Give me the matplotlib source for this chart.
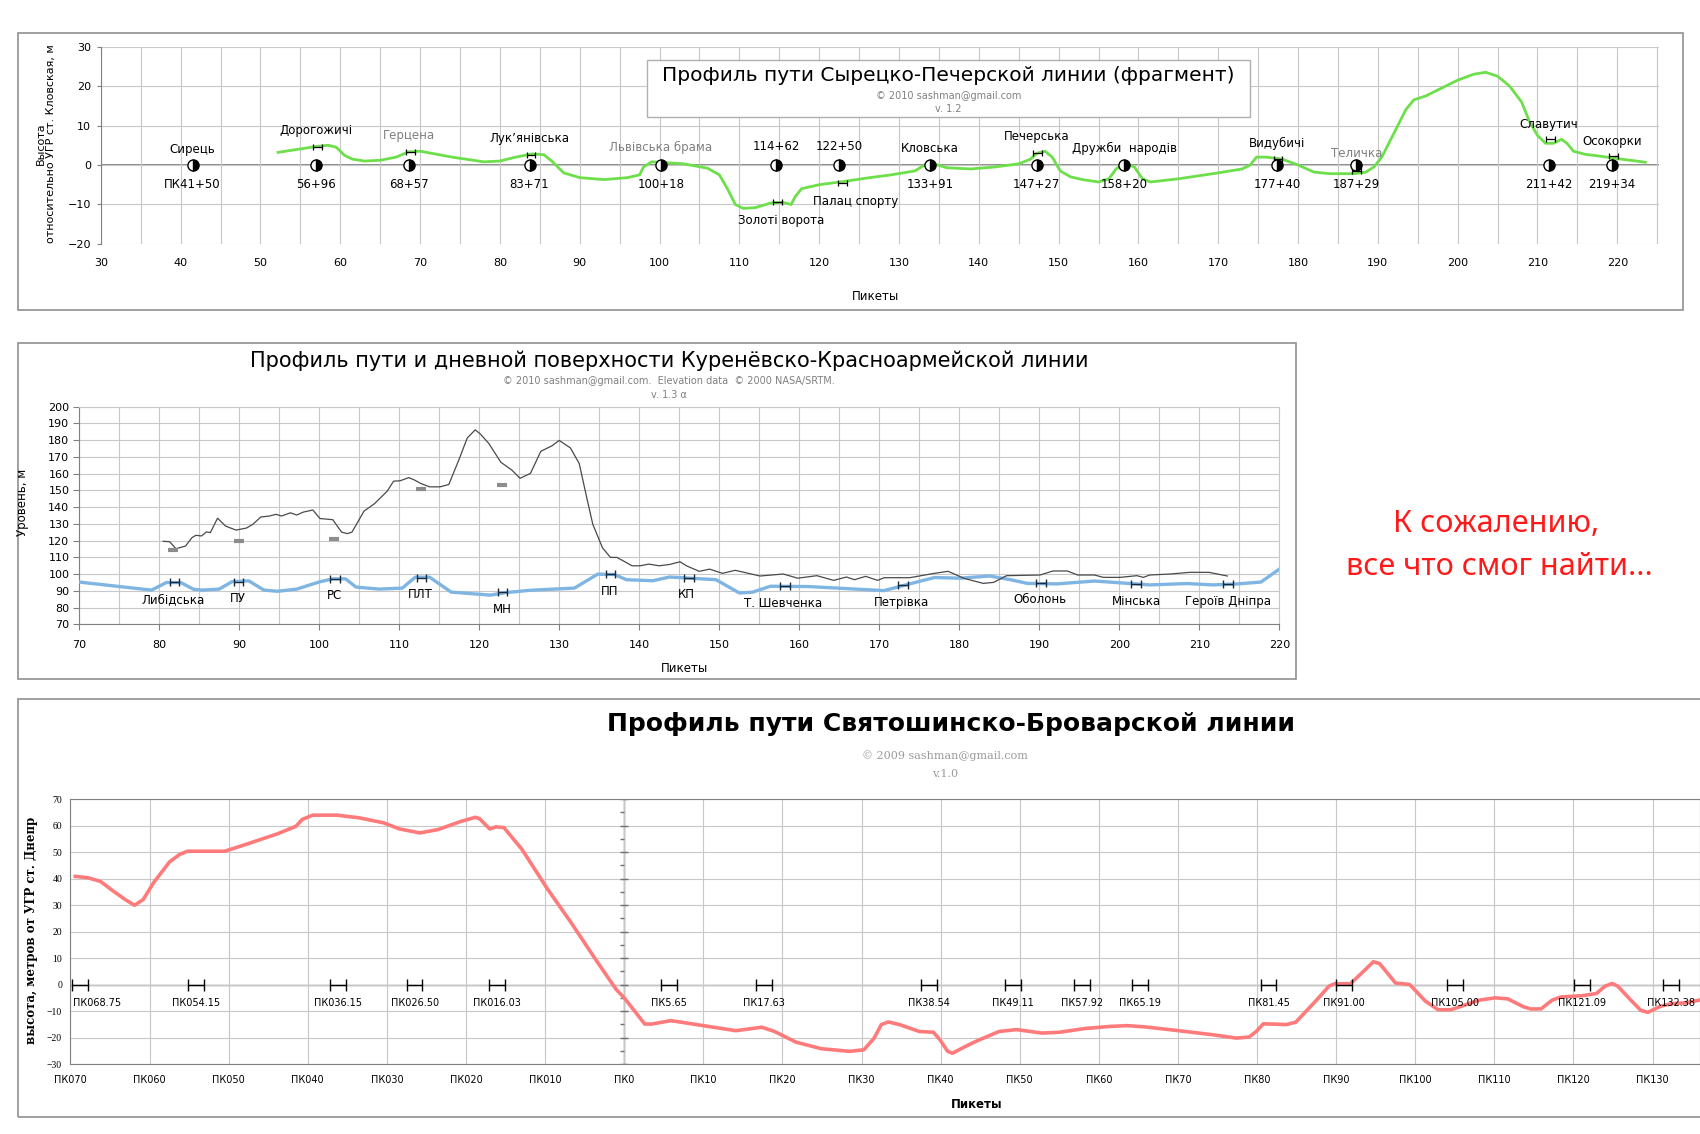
import matplotlib
matplotlib.use('Agg')
import matplotlib.pyplot as plt
from matplotlib.patches import Rectangle

plt.rcParams['font.family'] = ['DejaVu Sans Condensed', 'DejaVu Sans']

# ---------- Сырецко-Печерская линия (верхний график) ----------
sp_x = [52.2, 57, 58.5, 59.5, 60.5, 61.5, 63, 65, 67, 68.5, 70, 74, 78, 80, 82, 84, 85.5,
        86.5, 88, 90, 93, 96, 97.5, 98, 99, 100, 103, 106, 107.5, 108.5, 109.5, 110.5,
        112, 114, 115.5, 116.5, 117, 117.8, 120, 123, 126, 129, 132, 133.2, 134.2, 136,
        139, 142, 145, 146.5, 147.3, 148.3, 149.2, 150.2, 151.5, 153, 155, 156.3, 157.2,
        158.3, 159.5, 160.5, 161.5, 165, 170, 173, 174, 174.8, 176, 178, 180, 182, 184,
        187, 188.5, 189.5, 190.5, 191.5, 192.5, 193.5, 194.5, 196, 198, 200, 202, 203.5,
        205, 206.5, 208, 209, 210, 211, 212, 213, 213.7, 214.5, 216, 218, 220, 222, 223.5]
sp_y = [3.2, 4.7, 5, 4.5, 2.5, 1.5, 1, 1.2, 2, 3.3, 3.5, 2, 0.8, 1, 2, 2.8, 2.6,
        1, -2, -3.2, -3.7, -3.2, -2.5, -0.5, 0.8, 0.7, 0.3, -0.8, -2.5, -6, -10, -11,
        -10.8, -9.6, -9.5, -10, -8, -6, -5, -4.2, -3.3, -2.5, -1.5, 0, 0.4, -0.7,
        -1, -0.5, 0.3, 1.5, 3, 3.5, 2, -1.5, -3, -3.7, -4.3, -3.5, -1,
        0.5, -0.5, -3.5, -4.3, -3.5, -2, -1, 0, 2, 2, 1.5, 0, -1.8, -2.2,
        -2.2, -1.8, -0.5, 2, 6, 10, 14, 16.5, 17.5, 19.5, 21.5, 23, 23.5,
        22.5, 20, 16, 11, 7.5, 5.5, 5.5, 6.5, 5.5, 3.5, 2.7, 2.2, 1.6, 1.1, 0.7]

sp_st_x = [41.50, 56.96, 68.57, 83.71, 100.18, 114.62, 122.50, 133.91, 147.27, 158.20,
           177.40, 187.29, 211.42, 219.34]
sp_above = ['Сирець', 'Дорогожичі', 'Герцена', 'Лук’янівська', 'Львівська брама', '114+62',
            '122+50', 'Кловська', 'Печерська', 'Дружби  народів', 'Видубичі', 'Теличка',
            'Славутич', 'Осокорки']
sp_above_y = [4.0, 8.7, 7.4, 6.7, 4.5, 4.7, 4.7, 4.1, 7.3, 4.2, 5.5, 3.0, 10.3, 6.0]
sp_below = ['ПК41+50', '56+96', '68+57', '83+71', '100+18', '', '', '133+91', '147+27',
            '158+20', '177+40', '187+29', '211+42', '219+34']
sp_planned = ['Герцена', 'Львівська брама', 'Теличка']

sp_h_x = [57.1, 68.8, 83.9, 114.8, 122.9, 147.4, 177.5, 187.3, 211.6, 219.5]
sp_h_y = [4.5, 3.3, 2.6, -9.5, -4.5, 3.1, 1.4, -1.5, 6.5, 2.3]
sp_extra = ['Золоті ворота', 'Палац спорту']
sp_extra_x = [115.2, 124.6]
sp_extra_y = [-14.0, -9.3]

# ---------- Куренёвско-Красноармейская линия (средний график) ----------
kk_track_x = [70, 79.05, 80.9, 82.7, 84.3, 85.4, 87.5, 89.1, 91.2, 93.1, 94.8, 97.2, 100.1,
              101.7, 103.3, 104.6, 107.5, 110.4, 112, 113.8, 116.5, 121.4, 123.3, 126.4,
              131.9, 134.8, 136.9, 138.4, 141.7, 143.8, 149.6, 152.5, 154.1, 156.4, 161.2,
              170.6, 173.8, 176.9, 180.1, 183.8, 186.4, 188.5, 192.2, 196.9, 203.8, 208.5,
              211.7, 214.8, 217.7, 220]
kk_track_y = [95.3, 90.5, 95, 95, 91, 90.5, 91.1, 95.5, 96, 90.5, 89.8, 91.1, 95.5,
              97.2, 97.2, 92.3, 91.1, 91.7, 98.2, 98.2, 89.3, 87.5, 89, 90.4,
              91.7, 100, 99.8, 96.7, 96.1, 98.3, 96.7, 88.8, 89.2, 92.8, 92.6,
              90.2, 94.2, 98, 97.6, 98.9, 96.7, 94.5, 94.2, 95.9, 93.6, 94.4,
              93.6, 94.2, 95.3, 103]

kk_ground_x = [80.5, 81.3, 82.1, 83.3, 84.1, 84.6, 85.3, 85.9, 86.4, 87.3, 88.3, 89.6, 90.9,
               91.7, 92.7, 93.8, 94.6, 95.3, 96.4, 97.2, 98, 99.2, 100.1, 101.7, 102.8,
               103.5, 104.1, 105.6, 106.9, 108.5, 109.3, 110.1, 111.2, 111.9, 112.7, 113.8,
               115.1, 116.2, 117.5, 118.5, 119.5, 120.1, 121.2, 122.7, 124.1, 125.1, 126.4,
               127.7, 129.1, 130, 131.4, 132.5, 133.4, 134.2, 135.4, 136.4, 137.2, 137.9,
               139.1, 140.1, 141.2, 142.5, 143.8, 145.1, 145.9, 147.5, 148.8, 150.4, 152,
               155.1, 158, 159.8, 162.2, 164.3, 165.9, 166.9, 168.3, 169.8, 170.6, 173.8,
               176.9, 178.6, 180.6, 183, 184.3, 185.9, 190.1, 191.7, 193.5, 194.8, 196.9,
               198, 200.1, 202.2, 203, 203.8, 206.4, 208.8, 211.2, 213.5]
kk_ground_y = [119.6, 119.4, 115.2, 116.8, 121.8, 123.2, 122.8, 125.2, 124.8, 133.4, 128.7,
               126.3, 127.5, 129.7, 134.1, 134.7, 135.7, 134.7, 136.6, 135.3, 137, 138.3,
               133.2, 132.5, 125.1, 124.2, 125.1, 137.6, 142, 149.5, 155.5, 155.7, 157.6,
               156.2, 154.1, 152.1, 152.1, 153.5, 168.7, 181.2, 186.1, 183.8, 178, 166.8,
               162, 157.2, 160.1, 173.3, 176.6, 179.8, 175.3, 166, 146.5, 129.7, 115.8,
               110, 110, 108.2, 105, 105, 106, 105, 105.8, 107.4, 105, 101.7, 103, 100.5,
               102.3, 98.9, 100.1, 97.6, 99.1, 96.3, 98.3, 96.7, 98.7, 96.3, 97.9, 97.9,
               100.5, 101.7, 97.5, 94.5, 95.1, 99.1, 99.5, 101.9, 101.9, 99.5, 99.5,
               98.1, 98.1, 99.1, 98.1, 99.5, 100.1, 101.1, 101.1, 98.9]

kk_dash_x = [81.7, 90.0, 101.9, 112.7, 122.9]
kk_dash_y = [114.5, 120.0, 120.8, 151.1, 152.9]

kk_st_x = [81.9, 89.9, 102.0, 112.8, 122.9, 136.4, 146.2, 158.2, 173.0, 190.2, 202.1, 213.6]
kk_st_y = [95.3, 95.3, 97.3, 97.9, 89.4, 99.9, 97.9, 93.2, 93.6, 95.0, 94.4, 94.4]
kk_names = ['Либідська', 'ПУ', 'РС', 'ПЛТ', 'МН', 'ПП', 'КП', 'Т. Шевченка', 'Петрівка',
            'Оболонь', 'Мінська', 'Героїв Дніпра']
kk_name_x = [81.7, 89.8, 101.9, 112.7, 122.9, 136.3, 145.9, 158.0, 172.8, 190.1, 202.1, 213.6]
kk_name_y = [85.1, 85.5, 87.1, 87.7, 78.9, 89.6, 87.6, 82.7, 83.3, 84.9, 83.7, 83.7]

# ---------- Святошинско-Броварская линия (нижний график) ----------
sb_x = [-69.4, -67.8, -66.2, -64.7, -63.1, -61.9, -60.8, -59.5, -57.5, -56.2, -55.2, -53.1,
        -50.5, -47.9, -43.8, -41.5, -40.7, -39.4, -36.3, -33.5, -30.4, -28.4, -25.8, -23.5,
        -20.6, -18.8, -18.3, -17, -16.2, -15.2, -12.9, -9.8, -6.7, -3.6, -1, 0, 2.6, 3.5,
        5.9, 10, 14.1, 17.4, 19, 21.7, 24.9, 28.5, 30.3, 31.6, 32.5, 33.4, 34.8, 37.3, 39.1,
        39.9, 40.9, 41.5, 43.3, 44.7, 47.4, 49.6, 52.8, 55, 58.2, 61.4, 63.6, 65.9, 69.8,
        74.3, 77.4, 79, 79.9, 80.8, 81.9, 83.7, 84.9, 87.3, 89.1, 89.8, 91.8, 93.4, 94.7,
        95.5, 97.5, 99.3, 101.3, 102.9, 104.5, 105.8, 108.1, 110.1, 111.7, 113.7, 114.6,
        115.9, 117.3, 118.4, 121.1, 122.9, 124, 124.9, 125.6, 127.2, 128.5, 129.4, 131,
        132.4, 134.2, 135.9]
sb_y = [40.8, 40.3, 38.9, 35.5, 32.1, 29.9, 32.1, 38.4, 46.2, 49.1, 50.3, 50.3,
        50.3, 52.8, 56.9, 59.7, 62.3, 63.9, 63.9, 62.9, 61, 58.7, 57.2, 58.5,
        61.6, 63.1, 62.6, 58.7, 59.5, 59.2, 50.9, 36.5, 23.3, 9.4, -1.9, -5, -14.9, -14.9,
        -13.6, -15.5, -17.4, -16.1, -17.7, -21.7, -24.2, -25.2, -24.6, -20.2, -15.1, -14.1,
        -15.1, -17.7, -18, -20.8, -25.2, -25.9, -23.1, -21.1, -17.7, -17, -18.3, -18, -16.6,
        -15.8, -15.5, -16, -17.3, -18.9, -20.2, -19.8, -17.7, -14.8, -14.9, -15.1, -14.2,
        -6.6, -0.6, 0.3, 0.3, 4.8, 8.6, 7.9, 0.6, 0, -6.3, -9.5, -9.5, -8.2, -5.9, -5, -5.4,
        -8.4, -9.2, -9.2, -5.9, -4.7, -4.2, -3.4, -0.6, 0.4, -0.6, -5.7, -9.7, -10.5, -8.2,
        -7.2, -6.9, -5.9]

sb_st = [-68.75, -54.15, -36.15, -26.50, -16.03, 5.65, 17.63, 38.54, 49.11, 57.92, 65.19,
         81.45, 91.00, 105.00, 121.09, 132.38]
sb_st_lbl = ['ПК068.75', 'ПК054.15', 'ПК036.15', 'ПК026.50', 'ПК016.03', 'ПК5.65', 'ПК17.63',
             'ПК38.54', 'ПК49.11', 'ПК57.92', 'ПК65.19', 'ПК81.45', 'ПК91.00', 'ПК105.00',
             'ПК121.09', 'ПК132.38']
sb_ticks = list(range(-70, 131, 10))
sb_ticklabels = ['ПК070', 'ПК060', 'ПК050', 'ПК040', 'ПК030', 'ПК020', 'ПК010', 'ПК0',
                 'ПК10', 'ПК20', 'ПК30', 'ПК40', 'ПК50', 'ПК60', 'ПК70', 'ПК80', 'ПК90',
                 'ПК100', 'ПК110', 'ПК120', 'ПК130']

GRID = '#c8c8c8'
AXC = '#808080'
W, H = 1568.0, 1046.0


def fr(x0, y0, x1, y1):
    # пиксели эскиза -> доли фигуры
    return [x0 / W, 1 - y1 / H, (x1 - x0) / W, (y1 - y0) / H]


fig = plt.figure(figsize=(17, 11.34), dpi=100)

# рамки панелей
for box in (fr(17, 30, 1552, 286), fr(17, 316, 1195, 626), fr(17, 645, 1600, 1030)):
    fig.add_artist(Rectangle(box[:2], box[2], box[3], transform=fig.transFigure,
                             fill=False, ec='#909090', lw=1.2, zorder=0))

# ===== верхний график =====
ax1 = fig.add_axes(fr(93, 43, 1530, 225))
ax1.set_xlim(30, 225.2)
ax1.set_ylim(-20, 30)
ax1.set_xticks(range(30, 221, 10))
ax1.set_xticks(range(35, 226, 5), minor=True)
ax1.set_yticks(range(-20, 31, 10))
ax1.grid(True, which='both', axis='x', color=GRID, lw=0.8)
ax1.grid(True, which='major', axis='y', color=GRID, lw=0.8)
ax1.tick_params(axis='x', which='both', length=0, labelsize=8, pad=10)
ax1.tick_params(axis='y', length=3, color=AXC, labelsize=8, pad=4)
for s in ('top', 'right', 'bottom'):
    ax1.spines[s].set_visible(False)
ax1.spines['left'].set_color(AXC)
ax1.axhline(0, color='#777777', lw=1.2, zorder=1)
ax1.plot(sp_x, sp_y, color='#6ddf4a', lw=2, zorder=3)
ax1.errorbar(sp_h_x, sp_h_y, xerr=0.55, fmt='none', ecolor='black', elinewidth=0.9,
             capsize=2.5, capthick=0.9, zorder=4)
ax1.plot(sp_st_x, [0] * len(sp_st_x), ls='none', marker='o', ms=8, mfc='black',
         mfcalt='white', fillstyle='right', mec='black', mew=1, zorder=5)
for x, t, y, b in zip(sp_st_x, sp_above, sp_above_y, sp_below):
    c = '#808080' if t in sp_planned else 'black'
    ax1.text(x, y, t, ha='center', va='center', fontsize=8.5, color=c, zorder=6)
    if b:
        ax1.text(x, -5, b, ha='center', va='center', fontsize=8.5, zorder=6)
for t, x, y in zip(sp_extra, sp_extra_x, sp_extra_y):
    ax1.text(x, y, t, ha='center', va='center', fontsize=8.5, zorder=6)
ax1.set_ylabel('Высота\nотносительно УГР ст. Кловская, м', fontsize=8, linespacing=1.0)
ax1.yaxis.set_label_coords(-0.029, 0.51)
ax1.set_xlabel('Пикеты', fontsize=8.5)
ax1.xaxis.set_label_coords(0.497, -0.236)

tb = fr(597, 55, 1153, 108)
fig.add_artist(Rectangle(tb[:2], tb[2], tb[3], transform=fig.transFigure,
                         fc='white', ec='#b0b0b0', lw=1, zorder=2))
fig.text(875 / W, 1 - 70 / H, 'Профиль пути Сырецко-Печерской линии (фрагмент)',
         ha='center', va='center', fontsize=14.5)
fig.text(875 / W, 1 - 89 / H, '© 2010 sashman@gmail.com', ha='center', va='center',
         fontsize=7, color='#808080')
fig.text(875 / W, 1 - 101 / H, 'v. 1.2', ha='center', va='center', fontsize=7,
         color='#808080')

# ===== средний график =====
ax2 = fig.add_axes(fr(73, 375, 1180, 576))
ax2.set_xlim(70, 220)
ax2.set_ylim(70, 200)
ax2.set_xticks(range(70, 221, 10))
ax2.set_xticks(range(75, 220, 5), minor=True)
ax2.set_yticks(range(70, 201, 10))
ax2.grid(True, which='both', axis='x', color=GRID, lw=0.8)
ax2.grid(True, which='major', axis='y', color=GRID, lw=0.8)
ax2.tick_params(axis='x', which='major', length=4, color=AXC, labelsize=8, pad=7)
ax2.tick_params(axis='x', which='minor', length=0)
ax2.tick_params(axis='y', length=4, color=AXC, labelsize=8, pad=3)
for s in ('top', 'right'):
    ax2.spines[s].set_color(GRID)
for s in ('left', 'bottom'):
    ax2.spines[s].set_color(AXC)
ax2.plot(kk_track_x, kk_track_y, color='#7fb5e3', lw=2.4, zorder=3)
ax2.plot(kk_ground_x, kk_ground_y, color='#4a4a4a', lw=0.9, zorder=4)
ax2.plot(kk_dash_x, kk_dash_y, ls='none', marker='_', ms=7, mew=3, color='#8c8c8c',
         zorder=4)
ax2.errorbar(kk_st_x, kk_st_y, xerr=0.6, fmt='none', ecolor='#1a2a3a', elinewidth=1,
             capsize=3, capthick=1, zorder=5)
for t, x, y in zip(kk_names, kk_name_x, kk_name_y):
    ax2.text(x, y, t, ha='center', va='center', fontsize=8.5, zorder=6)
ax2.set_ylabel('Уровень, м', fontsize=8.5)
ax2.yaxis.set_label_coords(-0.0415, 0.56)
ax2.set_xlabel('Пикеты', fontsize=8.5)
ax2.xaxis.set_label_coords(0.504, -0.174)
fig.text(617 / W, 1 - 333 / H,
         'Профиль пути и дневной поверхности Куренёвско-Красноармейской линии',
         ha='center', va='center', fontsize=15)
fig.text(617 / W, 1 - 351 / H,
         '© 2010 sashman@gmail.com.  Elevation data  © 2000 NASA/SRTM.',
         ha='center', va='center', fontsize=7, color='#808080')
fig.text(617 / W, 1 - 364 / H, 'v. 1.3 α', ha='center', va='center', fontsize=7,
         color='#808080')

# надпись справа
fig.text(1380 / W, 1 - 483 / H, 'К сожалению,', ha='center', va='center',
         fontsize=22, color='#ff1a1a', family=['Noto Sans', 'DejaVu Sans'])
fig.text(1383 / W, 1 - 523 / H, 'все что смог найти...', ha='center', va='center',
         fontsize=22, color='#ff1a1a', family=['Noto Sans', 'DejaVu Sans'])

# ===== нижний график =====
ax3 = fig.add_axes(fr(65, 737, W, 981.5))
ax3.set_xlim(-70, 136.0)
ax3.set_ylim(-30, 70)
ax3.set_xticks(sb_ticks)
ax3.set_xticklabels(sb_ticklabels)
ax3.set_yticks(range(-30, 71, 10))
ax3.grid(True, color=GRID, lw=0.8)
ax3.tick_params(axis='x', length=0, labelsize=7, pad=8)
ax3.tick_params(axis='y', length=0, labelsize=7, pad=6)
for lbl in ax3.get_yticklabels():
    lbl.set_family(['Liberation Serif', 'DejaVu Serif'])
for s in ax3.spines.values():
    s.set_color(AXC)
ax3.axhline(0, color=AXC, lw=1, zorder=1)
ax3.axvline(0, color='#707070', lw=1, zorder=1)
ax3.plot([0] * 11, list(range(-30, 71, 10)), ls='none', marker='_', ms=6, mew=1,
         color='#707070', zorder=2)
ax3.plot([0] * 10, list(range(-25, 70, 10)), ls='none', marker=0, ms=3, mew=1,
         color='#707070', zorder=2)
ax3.plot(sb_x, sb_y, color='#ff7b7b', lw=2.6, zorder=3)
ax3.errorbar(sb_st, [0] * len(sb_st), xerr=1.0, fmt='none', ecolor='black', elinewidth=1,
             capsize=4, capthick=1, zorder=4)
for i, (x, t) in enumerate(zip(sb_st, sb_st_lbl)):
    if i == 0:
        ax3.text(x - 0.9, -7, t, ha='left', va='center', fontsize=7, zorder=5)
    else:
        ax3.text(x, -7, t, ha='center', va='center', fontsize=7, zorder=5)
ax3.set_ylabel('высота, метров от УГР ст. Днепр', fontsize=8.5, fontweight='bold',
               family=['DejaVu Serif'])
ax3.yaxis.set_label_coords(-0.02, 0.505)
ax3.set_xlabel('Пикеты', fontsize=8.5, fontweight='bold')
ax3.xaxis.set_label_coords(0.556, -0.129)
fig.text(877 / W, 1 - 668 / H, 'Профиль пути Святошинско-Броварской линии',
         ha='center', va='center', fontsize=18, fontweight='bold',
         family=['DejaVu Sans'])
fig.text(872 / W, 1 - 697 / H, '© 2009 sashman@gmail.com', ha='center', va='center',
         fontsize=8, color='#9a9a9a', family=['DejaVu Serif'])
fig.text(872 / W, 1 - 714 / H, 'v.1.0', ha='center', va='center', fontsize=8,
         color='#9a9a9a', family=['DejaVu Serif'])

fig.savefig('out.png', dpi=100, facecolor='white')
